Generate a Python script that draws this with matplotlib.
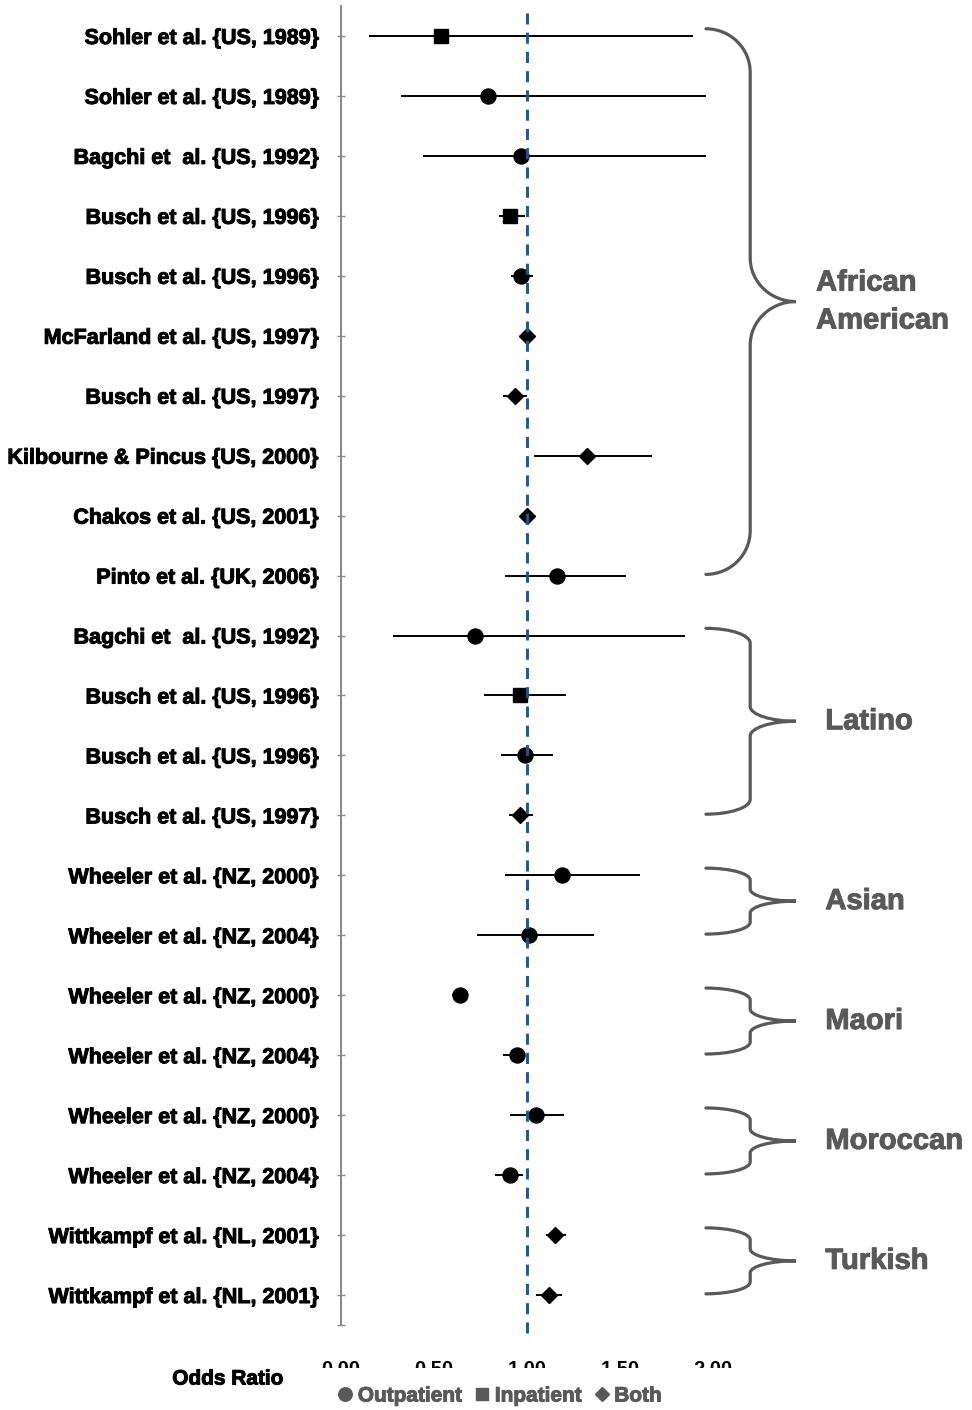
import matplotlib
matplotlib.use("Agg")
import matplotlib.pyplot as plt
import matplotlib.patheffects as pe
from matplotlib.path import Path
from matplotlib.patches import PathPatch
from matplotlib.lines import Line2D
from matplotlib.transforms import Bbox, TransformedBbox, blended_transform_factory

plt.rcParams["font.family"] = ["Liberation Sans", "DejaVu Sans"]
plt.rcParams["font.weight"] = "bold"

# ---- data ----
studies = [
    "Sohler et al. {US, 1989}",
    "Sohler et al. {US, 1989}",
    "Bagchi et  al. {US, 1992}",
    "Busch et al. {US, 1996}",
    "Busch et al. {US, 1996}",
    "McFarland et al. {US, 1997}",
    "Busch et al. {US, 1997}",
    "Kilbourne & Pincus {US, 2000}",
    "Chakos et al. {US, 2001}",
    "Pinto et al. {UK, 2006}",
    "Bagchi et  al. {US, 1992}",
    "Busch et al. {US, 1996}",
    "Busch et al. {US, 1996}",
    "Busch et al. {US, 1997}",
    "Wheeler et al. {NZ, 2000}",
    "Wheeler et al. {NZ, 2004}",
    "Wheeler et al. {NZ, 2000}",
    "Wheeler et al. {NZ, 2004}",
    "Wheeler et al. {NZ, 2000}",
    "Wheeler et al. {NZ, 2004}",
    "Wittkampf et al. {NL, 2001}",
    "Wittkampf et al. {NL, 2001}",
]
odds_ratio = [0.54, 0.79, 0.97, 0.91, 0.97, 1.00, 0.935, 1.32, 1.00, 1.16, 0.72,
              0.96, 0.99, 0.96, 1.19, 1.01, 0.64, 0.945, 1.05, 0.91, 1.15, 1.12]
ci_low = [0.15, 0.32, 0.44, 0.85, 0.915, 0.99, 0.87, 1.04, 0.99, 0.88, 0.28,
          0.77, 0.86, 0.905, 0.88, 0.73, 0.595, 0.87, 0.91, 0.83, 1.10, 1.05]
ci_high = [1.89, 1.96, 1.96, 0.99, 1.03, 1.01, 1.00, 1.67, 1.01, 1.53, 1.85,
           1.21, 1.14, 1.03, 1.61, 1.36, 0.685, 0.98, 1.20, 0.98, 1.21, 1.19]
setting = ["Inpatient", "Outpatient", "Outpatient", "Inpatient", "Outpatient",
           "Both", "Both", "Both", "Both", "Outpatient", "Outpatient",
           "Inpatient", "Outpatient", "Both", "Outpatient", "Outpatient",
           "Outpatient", "Outpatient", "Outpatient", "Outpatient", "Both", "Both"]

groups = ["African\nAmerican", "Latino", "Asian", "Maori", "Moroccan", "Turkish"]
group_sizes = [10, 4, 2, 2, 2, 2]

x_ticks = [0.0, 0.5, 1.0, 1.5, 2.0]

# ---- style ----
markers = {"Outpatient": ("o", 10.8), "Inpatient": ("s", 10.3), "Both": ("D", 7.8)}
GRAY = "#595959"
AXIS_GRAY = "#888888"
REF_BLUE = "#1f5591"


def heavy(color):
    # slightly thicker strokes, the reference text is heavier than plain bold
    return [pe.withStroke(linewidth=0.7, foreground=color)]


W, H = 972, 1410
fig = plt.figure(figsize=(W / 100, H / 100), dpi=100)
ax = fig.add_axes([341 / W, 1 - 1325 / H, 372 / W, 1319 / H])

rows = list(range(1, len(studies) + 1))

for y, o, lo, hi, s in zip(rows, odds_ratio, ci_low, ci_high, setting):
    ax.plot([lo, hi], [y, y], color="black", lw=1.4, solid_capstyle="butt", zorder=2)
    m, ms = markers[s]
    ax.plot(o, y, marker=m, ms=ms, color="black", mec="black", ls="none", zorder=3)

ax.axvline(1.0, ymin=-0.006, ymax=0.999, color=REF_BLUE, lw=2.1,
           ls=(0, (3.8, 2.8)), zorder=4, clip_on=False)

ax.set_xlim(0, 2)
ax.set_ylim(len(studies) + 0.5, 0.5)
ax.set_yticks(rows)
ax.set_yticklabels(studies, fontsize=15.5, fontweight="bold", color="black")
for t in ax.get_yticklabels():
    t.set_path_effects(heavy("black"))
ax.set_yticks([len(studies) + 0.5], minor=True)
ax.tick_params(axis="y", which="both", direction="inout", length=5.8, width=1,
               color=AXIS_GRAY, pad=13)
ax.set_xticks([])
for side in ("top", "right", "bottom"):
    ax.spines[side].set_visible(False)
ax.spines["left"].set_color(AXIS_GRAY)
ax.spines["left"].set_linewidth(1.4)

# x tick labels, cut off at the bottom like the reference
clip = TransformedBbox(Bbox([[0, 1 - 1368 / H], [1, 1]]), fig.transFigure)
xtr = blended_transform_factory(ax.transData, fig.transFigure)
for v in x_ticks:
    t = ax.text(v, 1 - 1360 / H, f"{v:.2f}", transform=xtr, ha="center", va="top",
                fontsize=14.5, fontweight="bold", color="black", clip_on=True)
    t.set_clip_box(clip)

fig.text(228 / W, 1 - 1379 / H, "Odds Ratio", ha="center", va="center",
         fontsize=15, fontweight="bold", color="black", path_effects=heavy("black"))

# legend
handles = [Line2D([], [], ls="none", marker=markers[k][0], ms=markers[k][1] * 0.9,
                  color=GRAY, mec=GRAY) for k in ("Outpatient", "Inpatient", "Both")]
leg = fig.legend(handles, ["Outpatient", "Inpatient", "Both"], loc="center",
                 bbox_to_anchor=(500 / W, 1 - 1396 / H), ncol=3, frameon=False,
                 handlelength=0.7, handletextpad=0.25, columnspacing=0.6,
                 prop={"size": 15, "weight": "bold"}, labelcolor=GRAY, borderpad=0)
for t in leg.get_texts():
    t.set_path_effects(heavy(GRAY))

# group braces
ytr = ax.get_yaxis_transform()
x_tip, x_spine, x_point, x_label = 0.981, 1.10, 1.223, 1.302
k = 0.5523
start = 1
for name, n in zip(groups, group_sizes):
    top = start - 0.12
    bot = start + n - 1 - 0.02
    mid = (top + bot) / 2
    r = max(0.08 * (bot - top), 0.2)
    w1 = x_spine - x_tip
    w2 = x_point - x_spine
    verts = [
        (x_tip, top), (x_tip + k * w1, top), (x_spine, top + r * (1 - k)), (x_spine, top + r),
        (x_spine, mid - r),
        (x_spine, mid - r + k * r), (x_point - k * w2, mid), (x_point, mid),
        (x_point - k * w2, mid), (x_spine, mid + r - k * r), (x_spine, mid + r),
        (x_spine, bot - r),
        (x_spine, bot - r + k * r), (x_tip + k * w1, bot), (x_tip, bot),
    ]
    codes = [Path.MOVETO, Path.CURVE4, Path.CURVE4, Path.CURVE4,
             Path.LINETO,
             Path.CURVE4, Path.CURVE4, Path.CURVE4,
             Path.CURVE4, Path.CURVE4, Path.CURVE4,
             Path.LINETO,
             Path.CURVE4, Path.CURVE4, Path.CURVE4]
    ax.add_patch(PathPatch(Path(verts, codes), transform=ytr, fill=False,
                           edgecolor=GRAY, lw=2.3, clip_on=False, capstyle="round"))
    lx = x_label - (0.025 if "\n" in name else 0)
    ax.text(lx, mid, name, transform=ytr, ha="left", va="center",
            fontsize=21, fontweight="bold", color=GRAY, linespacing=1.45,
            path_effects=heavy(GRAY))
    start += n

fig.savefig("out.png", dpi=100)
